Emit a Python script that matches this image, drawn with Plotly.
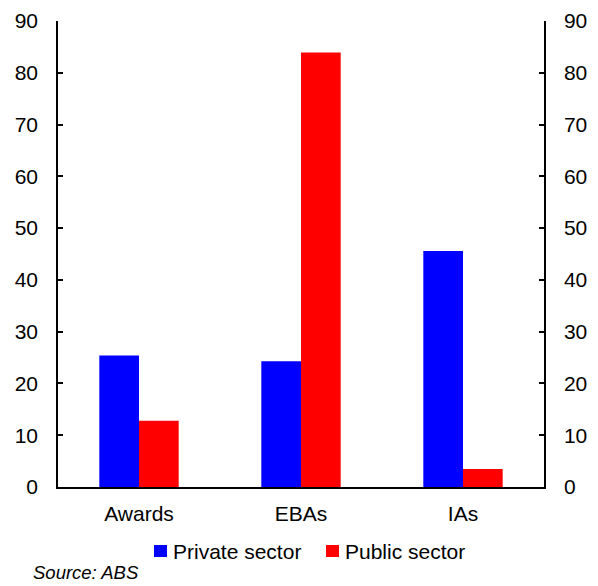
import plotly.graph_objects as go

categories = ["Awards", "EBAs", "IAs"]
private_sector = [25.4, 24.3, 45.6]
public_sector = [12.8, 83.9, 3.5]
y_ticks = [0, 10, 20, 30, 40, 50, 60, 70, 80, 90]
series_names = ["Private sector", "Public sector"]
series_colors = ["#0000FF", "#FF0000"]

FONT = "Arial, Liberation Sans, sans-serif"
FS = 21
W, H = 598, 586
ML, MR, MT, MB = 58, 54, 21, 99
PW, PH = W - ML - MR, H - MT - MB


def px_x(x):
    return (x - ML) / PW


def px_y(y):
    return (H - MB - y) / PH


fig = go.Figure()
for name, vals, col in zip(series_names, [private_sector, public_sector], series_colors):
    fig.add_trace(go.Bar(x=categories, y=vals, name=name,
                         marker=dict(color=col, line=dict(width=0))))
# invisible trace to carry the right-hand axis
fig.add_trace(go.Scatter(x=categories, y=private_sector, yaxis="y2", mode="markers",
                         marker=dict(opacity=0), showlegend=False, hoverinfo="skip"))

axis_y = dict(range=[0, 90], tickvals=y_ticks, ticks="inside", ticklen=5, tickwidth=1.5,
              tickcolor="black", showline=True, linecolor="black", linewidth=1.5,
              showgrid=False, zeroline=False, ticklabelstandoff=14,
              tickfont=dict(family=FONT, size=FS, color="black"))

fig.update_layout(
    width=W, height=H,
    margin=dict(l=ML, r=MR, t=MT, b=MB, autoexpand=False),
    paper_bgcolor="white", plot_bgcolor="white",
    barmode="group", bargap=0.51, bargroupgap=0,
    font=dict(family=FONT, size=FS, color="black"),
    xaxis=dict(showline=True, linecolor="black", linewidth=1.5, ticks="",
               showgrid=False, ticklabelstandoff=7,
               tickfont=dict(family=FONT, size=FS, color="black")),
    yaxis=dict(side="left", **axis_y),
    yaxis2=dict(side="right", overlaying="y", **axis_y),
    showlegend=False,
)

# legend swatches and labels
legend_items = [(154, 171), (326, 343)]
for (sx, tx), name, col in zip(legend_items, series_names, series_colors):
    fig.add_shape(type="rect", xref="paper", yref="paper",
                  x0=px_x(sx), x1=px_x(sx + 13), y0=px_y(545), y1=px_y(557),
                  fillcolor=col, line=dict(width=0))
    fig.add_annotation(text=name, xref="paper", yref="paper",
                       x=px_x(tx), y=px_y(551), xanchor="left", yanchor="middle",
                       showarrow=False, font=dict(family=FONT, size=FS, color="black"))

fig.add_annotation(text="<i>Source: ABS</i>", xref="paper", yref="paper",
                   x=px_x(31), y=px_y(572), xanchor="left", yanchor="middle",
                   showarrow=False, font=dict(family=FONT, size=18.5, color="black"))

fig.write_html("out.html", config={"displayModeBar": False},
               post_script="document.body.style.margin='0';document.body.style.padding='0';")
